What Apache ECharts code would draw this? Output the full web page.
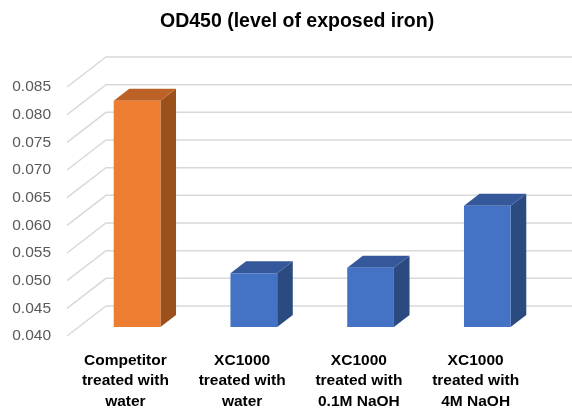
<!DOCTYPE html>
<html>
<head>
<meta charset="utf-8">
<script src="https://cdn.jsdelivr.net/npm/echarts@6/dist/echarts.min.js"></script>
<style>
html,body{margin:0;padding:0;background:#fff;}
#chart{width:572px;height:408px;}
</style>
</head>
<body>
<div id="chart"></div>
<script>
var categories = ['Competitor\ntreated with\nwater', 'XC1000\ntreated with\nwater', 'XC1000\ntreated with\n0.1M NaOH', 'XC1000\ntreated with\n4M NaOH'];
var values = [0.0809, 0.0497, 0.0507, 0.0619];
var tickValues = [0.040, 0.045, 0.050, 0.055, 0.060, 0.065, 0.070, 0.075, 0.080, 0.085];

var DEPTH_X = 39, DEPTH_Y = -30;
var BAR_FRAC = 0.4;
var palette = [
  {front: '#ED7D31', top: '#BD6226', side: '#9C501C'},
  {front: '#4472C4', top: '#34589A', side: '#2A4A80'},
  {front: '#4472C4', top: '#34589A', side: '#2A4A80'},
  {front: '#4472C4', top: '#34589A', side: '#2A4A80'}
];

var chart = echarts.init(document.getElementById('chart'), null, {renderer: 'canvas'});

function gridRender(params, api) {
  var v = api.value(0);
  var cs = params.coordSys;
  var y = api.coord([0, v])[1];
  var x0 = cs.x;
  var pts = [[x0, y], [x0 + DEPTH_X, y + DEPTH_Y], [x0 + DEPTH_X + cs.width + 10, y + DEPTH_Y]];
  return {
    type: 'polyline',
    shape: {points: pts},
    style: {stroke: '#D9D9D9', lineWidth: 1.5, fill: null}
  };
}

function barRender(params, api) {
  var idx = api.value(0);
  var v = api.value(1);
  var c = api.coord([idx, v]);
  var base = api.coord([idx, tickValues[0]]);
  var band = api.size([1, 0])[0];
  var w = band * BAR_FRAC;
  var off = (1 - BAR_FRAC) / 2;
  var ox = DEPTH_X * off, oy = DEPTH_Y * off;
  var dx = DEPTH_X * BAR_FRAC, dy = DEPTH_Y * BAR_FRAC;
  var xl = c[0] - w / 2 + ox, xr = c[0] + w / 2 + ox;
  var yt = c[1] + oy, yb = base[1] + oy;
  var col = palette[idx];
  return {
    type: 'group',
    children: [
      {type: 'polygon', shape: {points: [[xr, yt], [xr + dx, yt + dy], [xr + dx, yb + dy], [xr, yb]]},
        style: {fill: col.side}},
      {type: 'polygon', shape: {points: [[xl, yt], [xl + dx, yt + dy], [xr + dx, yt + dy], [xr, yt]]},
        style: {fill: col.top}},
      {type: 'rect', shape: {x: xl, y: yt, width: xr - xl, height: yb - yt},
        style: {fill: col.front}}
    ]
  };
}

chart.setOption({
  animation: false,
  backgroundColor: '#ffffff',
  title: {
    text: 'OD450 (level of exposed iron)',
    left: 155,
    top: 7,
    textStyle: {fontFamily: 'Liberation Sans', fontSize: 19.5, fontWeight: 'bold', color: '#000000'}
  },
  grid: {left: 67, right: 38, top: 87, bottom: 72, containLabel: false, outerBoundsMode: 'none'},
  xAxis: {
    type: 'category',
    data: categories,
    axisLine: {show: false},
    axisTick: {show: false},
    splitLine: {show: false},
    axisLabel: {
      interval: 0, margin: 14,
      fontFamily: 'Liberation Sans', fontSize: 15.5, fontWeight: 'bold',
      color: '#000000', lineHeight: 20.5
    }
  },
  yAxis: {
    type: 'value',
    min: 0.040, max: 0.085, interval: 0.005,
    axisLine: {show: false},
    axisTick: {show: false},
    splitLine: {show: false},
    axisLabel: {
      margin: 16,
      padding: [4, 0, 0, 0],
      fontFamily: 'Liberation Sans', fontSize: 15.5, color: '#595959',
      formatter: function (v) { return v.toFixed(3); }
    }
  },
  series: [
    {
      type: 'custom',
      z: 1,
      silent: true,
      clip: false,
      renderItem: gridRender,
      data: tickValues.map(function (t) { return [t]; }),
      encode: {y: 0}
    },
    {
      type: 'custom',
      z: 2,
      clip: false,
      renderItem: barRender,
      data: values.map(function (v, i) { return [i, v]; }),
      encode: {x: 0, y: 1}
    }
  ]
});
</script>
</body>
</html>
